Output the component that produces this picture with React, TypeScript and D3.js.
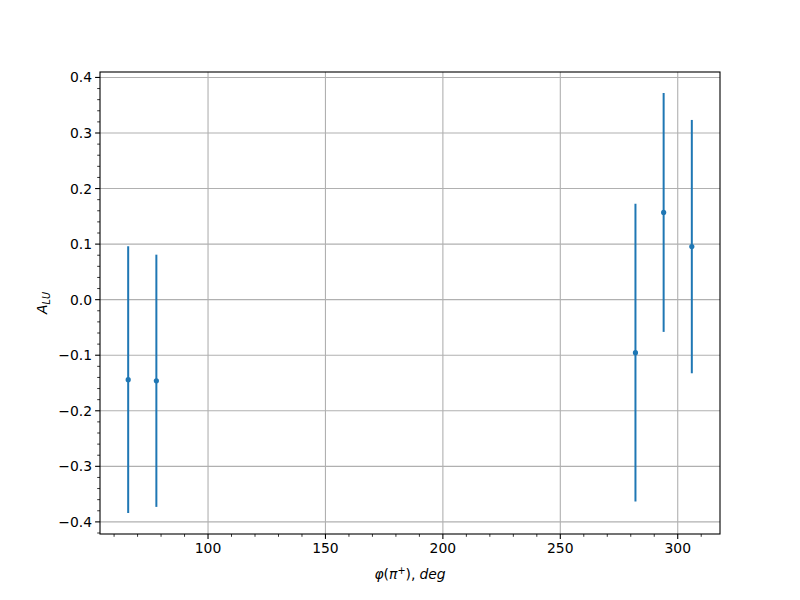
import React from "react";
import * as d3 from "d3";

const phi = [66, 78, 282, 294, 306];
const alu = [-0.144, -0.146, -0.0955, 0.157, 0.0955];
const err = [0.240, 0.227, 0.268, 0.215, 0.228];
const xTicks = [100, 150, 200, 250, 300];
const yTicks = [-0.4, -0.3, -0.2, -0.1, 0.0, 0.1, 0.2, 0.3, 0.4];

const W = 800, H = 600;
const L = 100, R = 720, T = 72, B = 534;
const color = "#1f77b4";
const font = "DejaVu Sans, sans-serif";

export default function App() {
  const lo = d3.min(alu.map((v, i) => v - err[i]))!;
  const hi = d3.max(alu.map((v, i) => v + err[i]))!;
  const xmin = d3.min(phi)!, xmax = d3.max(phi)!;
  const xm = (xmax - xmin) * 0.05, ym = (hi - lo) * 0.05;
  const x = d3.scaleLinear().domain([xmin - xm, xmax + xm]).range([L, R]);
  const y = d3.scaleLinear().domain([lo - ym, hi + ym]).range([B, T]);

  const xMinor = d3.range(60, 320, 10).filter(v => v % 50 !== 0 && x(v) >= L && x(v) <= R);
  const yMinor = d3.range(-42, 42, 2).map(v => v / 100).filter(v => Math.abs(Math.round(v * 100) % 10) !== 0 && y(v) >= T && y(v) <= B);
  const fmt = (v: number) => (Math.abs(v) < 1e-9 ? "0.0" : v.toFixed(1).replace("-", "\u2212"));

  return (
    <svg width={W} height={H} style={{ display: "block", position: "absolute", left: 0, top: 0 }}>
      <rect x={0} y={0} width={W} height={H} fill="white" />
      {xTicks.map(t => (
        <line key={"gx" + t} x1={x(t)} x2={x(t)} y1={T} y2={B} stroke="#b0b0b0" strokeWidth={1.1} />
      ))}
      {yTicks.map(t => (
        <line key={"gy" + t} x1={L} x2={R} y1={y(t)} y2={y(t)} stroke="#b0b0b0" strokeWidth={1.1} />
      ))}
      {phi.map((p, i) => (
        <g key={"e" + i}>
          <line x1={x(p)} x2={x(p)} y1={y(alu[i] - err[i])} y2={y(alu[i] + err[i])} stroke={color} strokeWidth={2} />
          <circle cx={x(p)} cy={y(alu[i])} r={2.6} fill={color} />
        </g>
      ))}
      <rect x={L} y={T} width={R - L} height={B - T} fill="none" stroke="black" strokeWidth={1.1} />
      {xTicks.map(t => (
        <g key={"xt" + t}>
          <line x1={x(t)} x2={x(t)} y1={B} y2={B + 4.9} stroke="black" strokeWidth={1.1} />
          <text x={x(t)} y={B + 19} textAnchor="middle" fontFamily={font} fontSize={13.9}>{t}</text>
        </g>
      ))}
      {xMinor.map(t => (
        <line key={"xm" + t} x1={x(t)} x2={x(t)} y1={B} y2={B + 2.8} stroke="black" strokeWidth={0.8} />
      ))}
      {yTicks.map(t => (
        <g key={"yt" + t}>
          <line x1={L} x2={L - 4.9} y1={y(t)} y2={y(t)} stroke="black" strokeWidth={1.1} />
          <text x={L - 8} y={y(t) + 5} textAnchor="end" fontFamily={font} fontSize={13.9}>{fmt(t)}</text>
        </g>
      ))}
      {yMinor.map(t => (
        <line key={"ym" + t} x1={L} x2={L - 2.8} y1={y(t)} y2={y(t)} stroke="black" strokeWidth={0.8} />
      ))}
      <text x={(L + R) / 2} y={579} textAnchor="middle" fontFamily={font} fontSize={13.9}>
        <tspan fontStyle="italic">φ</tspan>
        <tspan>(</tspan>
        <tspan fontStyle="italic">π</tspan>
        <tspan fontSize={9.7} dy={-5}>+</tspan>
        <tspan dy={5}>),</tspan>
        <tspan fontStyle="italic" dx={4}>deg</tspan>
      </text>
      <text transform={`translate(47,${(T + B) / 2}) rotate(-90)`} textAnchor="middle" fontFamily={font} fontSize={13.9}>
        <tspan fontStyle="italic">A</tspan>
        <tspan fontStyle="italic" fontSize={9.7} dy={3}>LU</tspan>
      </text>
    </svg>
  );
}
